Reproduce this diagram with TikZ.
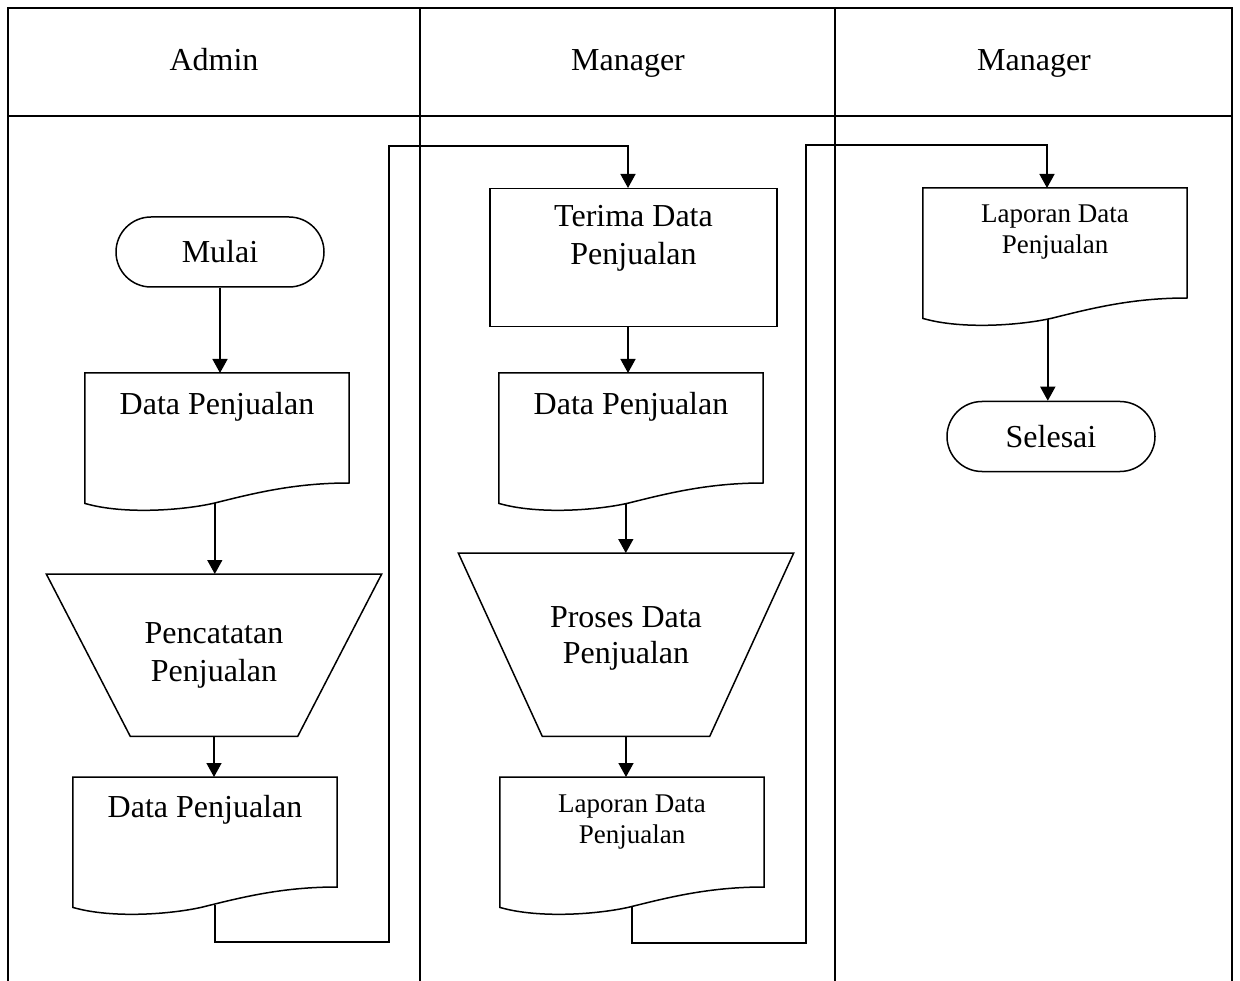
\documentclass[tikz,border=0pt]{standalone}
\usepackage{fontspec}
\setmainfont{Liberation Serif}
\usetikzlibrary{calc,arrows.meta}
\newcommand\bigf{\fontsize{32}{37}\selectfont}
\newcommand\smallf{\fontsize{27}{31}\selectfont}
\newcommand\toptxt[4]{\parbox[c][#2][t]{#1}{\centering\vspace*{#3}#4}}
\newcommand\docwave[1]{%
  \draw[shp] (#1.north west) -- (#1.north east) -- ($(#1.north east)+(0,110)$)
    .. controls ($(#1.north west)+(210,110)$) and ($(#1.north west)+(170,120)$) .. ($(#1.north west)+(130,130)$)
    .. controls ($(#1.north west)+(100,137)$) and ($(#1.north west)+(40,142)$) .. (#1.south west) -- cycle;}
\newcommand\trapout[2]{%
  \draw[shp] (#1.north west) -- (#1.north east) -- ($(#1.south east)+(-#2,0)$) -- ($(#1.south west)+(#2,0)$) -- cycle;}
\begin{document}
\begin{tikzpicture}[x=1pt,y=-1pt,
  shp/.style={line width=1.5pt},
  tbl/.style={line width=2.4pt},
  arr/.style={line width=1.5pt,-{Triangle[length=14pt,width=15pt]}},
  term/.style={shp,draw,rounded corners=35pt,minimum width=208pt,minimum height=70pt,inner sep=0pt,font=\bigf},
  docn/.style={inner sep=0pt,anchor=north,font=\bigf},
  sdocn/.style={inner sep=0pt,anchor=north,font=\smallf},
  hdr/.style={anchor=base,font=\bigf}]
\useasboundingbox (0,0) rectangle (1240,981);
% table
\draw[tbl] (8,981) -- (8,8) -- (1232,8) -- (1232,981);
\draw[tbl] (8,116) -- (1232,116);
\draw[tbl] (420,8) -- (420,981);
\draw[tbl] (835,8) -- (835,981);
\node[hdr] (h1) at (214,71) {Admin};
\node[hdr] (h2) at (628,71) {Manager};
\node[hdr] (h3) at (1034,71) {Manager};
% column 1
\node[term] (mulai) at (220,252) {Mulai};
\node[docn] (d1) at (217,373) {\toptxt{264pt}{130pt}{19pt}{Data Penjualan}};
\docwave{d1}
\node[docn] (p1) at (214,574) {\toptxt{335pt}{162pt}{48pt}{\fontsize{32}{38}\selectfont Pencatatan\\Penjualan}};
\trapout{p1}{84}
\node[docn] (d2) at (205,777) {\toptxt{264pt}{130pt}{18pt}{Data Penjualan}};
\docwave{d2}
% column 2
\node[docn,draw,shp] (terima) at (633.5,188) {\toptxt{287pt}{138pt}{17pt}{\fontsize{32}{38}\selectfont Terima Data\\Penjualan}};
\node[docn] (d3) at (631,373) {\toptxt{264pt}{130pt}{19pt}{Data Penjualan}};
\docwave{d3}
\node[docn] (p2) at (626,553) {\toptxt{335pt}{183pt}{53pt}{\fontsize{32}{36}\selectfont Proses Data\\Penjualan}};
\trapout{p2}{84}
\node[sdocn] (d4) at (632,777) {\toptxt{264pt}{130pt}{18pt}{Laporan Data\\Penjualan}};
\docwave{d4}
% column 3
\node[sdocn] (d5) at (1055,188) {\toptxt{264pt}{130pt}{17pt}{Laporan Data\\Penjualan}};
\docwave{d5}
\node[term] (selesai) at (1051,436.5) {Selesai};
% connector points
\coordinate (d1x) at ($(d1.north west)+(130,130)$);
\coordinate (d2x) at ($(d2.north west)+(142,128)$);
\coordinate (d3x) at ($(d3.north west)+(127,130.5)$);
\coordinate (d4x) at ($(d4.north west)+(132,129.5)$);
\coordinate (d5x) at ($(d5.north west)+(125,131)$);
\coordinate (c1) at (389,942);
\coordinate (c3) at (628,146);
\coordinate (c4) at (806,943);
\coordinate (c5) at (1047,145);
% connectors
\draw[arr] (mulai.south) -- (mulai.south |- d1.north);
\draw[arr] (d1x) -- (d1x |- p1.north);
\draw[arr] (p1.south) -- (p1.south |- d2.north);
\draw[arr] (d2x) |- (c1) |- (c3) -- (c3 |- terima.north);
\draw[arr] (c3 |- terima.south) -- (c3 |- d3.north);
\draw[arr] (d3x) -- (d3x |- p2.north);
\draw[arr] (p2.south) -- (p2.south |- d4.north);
\draw[arr] (d4x) |- (c4) |- (c5) -- (c5 |- d5.north);
\draw[arr] (d5x) -- (d5x |- selesai.north);
\end{tikzpicture}
\end{document}
